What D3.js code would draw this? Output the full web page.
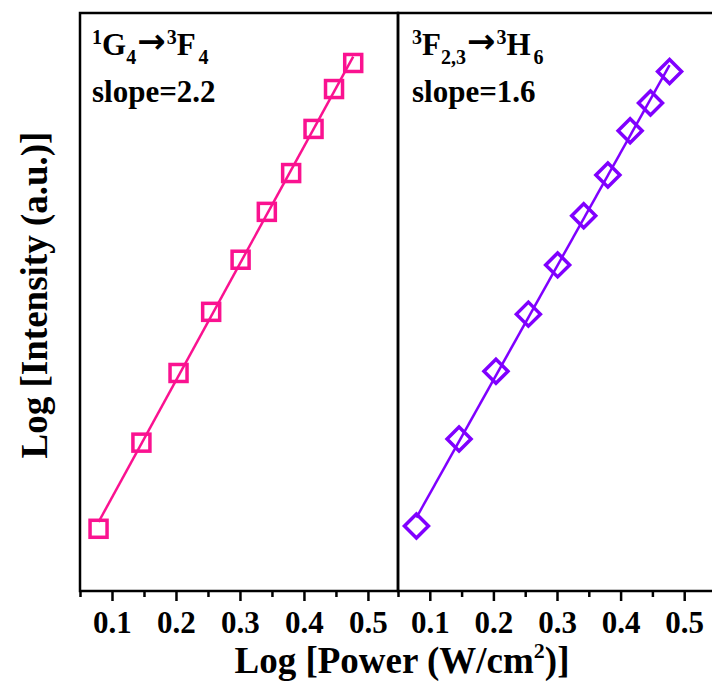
<!DOCTYPE html>
<html><head><meta charset="utf-8">
<script src="https://cdn.jsdelivr.net/npm/d3@7"></script>
<style>body{margin:0;background:#fff}svg{display:block}</style>
</head><body><svg id="c" width="712" height="682"></svg>
<script>
// Data
const powerLog = [0.079, 0.146, 0.204, 0.255, 0.301, 0.342, 0.380, 0.415, 0.447, 0.477];
const intensityG4F4 = [0.000, 0.162, 0.293, 0.408, 0.506, 0.596, 0.669, 0.752, 0.827, 0.876];
const intensityF23H6 = [0.000, 0.122, 0.217, 0.297, 0.366, 0.435, 0.492, 0.554, 0.593, 0.637];
const majorTicks = [0.1, 0.2, 0.3, 0.4, 0.5];
const tickLabels = ["0.1", "0.2", "0.3", "0.4", "0.5"];
const minorTicks = [0.05, 0.15, 0.25, 0.35, 0.45, 0.55];
const slopeLabels = ["slope=2.2", "slope=1.6"];

const svg = d3.select("#c");
svg.append("rect").attr("width", 712).attr("height", 682).attr("fill", "#fff");
const FONT = "'Liberation Serif','Times New Roman',serif";
const yTop = 13, yBottom = 591;

const panels = [
  {x0: 80, x1: 398, xd: [0.05, 0.547], yd: [-0.117, 0.970], vals: intensityG4F4, color: "#FA1290", marker: "square", minor: minorTicks.filter(t => t < 0.547)},
  {x0: 398, x1: 716, xd: [0.05, 0.55], yd: [-0.091, 0.719], vals: intensityF23H6, color: "#8000FF", marker: "diamond", minor: minorTicks}
];

panels.forEach((p, i) => {
  const x = d3.scaleLinear().domain(p.xd).range([p.x0, p.x1]);
  const y = d3.scaleLinear().domain(p.yd).range([yBottom, yTop]);
  const g = svg.append("g");

  // fit line
  const n = powerLog.length;
  const mx = d3.mean(powerLog), my = d3.mean(p.vals);
  let sxy = 0, sxx = 0;
  for (let k = 0; k < n; k++) { sxy += (powerLog[k]-mx)*(p.vals[k]-my); sxx += (powerLog[k]-mx)**2; }
  const b = sxy / sxx, a = my - b*mx;
  const xmin = d3.min(powerLog), xmax = d3.max(powerLog);
  g.append("line")
    .attr("x1", x(xmin)).attr("y1", y(a + b*xmin))
    .attr("x2", x(xmax)).attr("y2", y(a + b*xmax))
    .attr("stroke", p.color).attr("stroke-width", 2.5);

  // markers
  const pts = powerLog.map((v, k) => [v, p.vals[k]]);
  if (p.marker === "square") {
    g.selectAll("rect.m").data(pts).join("rect").attr("class", "m")
      .attr("x", d => x(d[0]) - 8.5).attr("y", d => y(d[1]) - 8.5)
      .attr("width", 17).attr("height", 17)
      .attr("fill", "none").attr("stroke", p.color).attr("stroke-width", 3.5);
  } else {
    const r = 12;
    g.selectAll("path.m").data(pts).join("path").attr("class", "m")
      .attr("d", d => { const cx = x(d[0]), cy = y(d[1]); return `M${cx},${cy-r}L${cx+r},${cy}L${cx},${cy+r}L${cx-r},${cy}Z`; })
      .attr("fill", "none").attr("stroke", p.color).attr("stroke-width", 3.5).attr("stroke-linejoin", "miter");
  }

  // axes
  const major = d3.axisBottom(x).tickValues(majorTicks).tickFormat((d, k) => tickLabels[k]).tickSize(10).tickSizeOuter(0).tickPadding(11);
  const ga = svg.append("g").attr("transform", `translate(0,${yBottom})`).call(major);
  ga.select(".domain").remove();
  ga.selectAll("line").attr("stroke", "#000").attr("stroke-width", 2.5);
  ga.selectAll("text").attr("font-family", FONT).attr("font-weight", "bold").attr("font-size", 31).attr("fill", "#000").attr("dy", "0.68em");
  const minor = d3.axisBottom(x).tickValues(p.minor).tickFormat("").tickSize(6).tickSizeOuter(0);
  const gm = svg.append("g").attr("transform", `translate(0,${yBottom})`).call(minor);
  gm.select(".domain").remove();
  gm.selectAll("line").attr("stroke", "#000").attr("stroke-width", 2.5);

  // frame
  svg.append("rect").attr("x", p.x0).attr("y", yTop).attr("width", p.x1 - p.x0).attr("height", yBottom - yTop)
    .attr("fill", "none").attr("stroke", "#000").attr("stroke-width", 2.5);
});

// panel labels
function label(x0, parts) {
  const t = svg.append("text").attr("x", x0).attr("y", 55)
    .attr("font-family", FONT).attr("font-weight", "bold").attr("font-size", 31).attr("fill", "#000");
  let shift = 0;
  parts.forEach(([s, kind, dx]) => {
    let target = kind === "sup" ? -11 : kind === "sub" ? 9 : 0;
    const ts = t.append("tspan").text(s).attr("dy", target - shift).attr("dx", dx || 0)
      .attr("font-size", kind === "n" ? 31 : kind === "arrow" ? 34 : 20);
    if (kind === "arrow") ts.attr("font-family", "'DejaVu Sans',sans-serif").attr("dy", -2 - shift), target = -2;
    shift = target;
  });
}
label(92, [["1","sup"],["G","n"],["4","sub"],["→","arrow",1],["3","sup",1],["F","n"],["4","sub",3]]);
label(412, [["3","sup"],["F","n"],["2,3","sub"],["→","arrow",1],["3","sup",1],["H","n"],["6","sub",3]]);
[92, 412].forEach((xx, i) => {
  svg.append("text").attr("x", xx).attr("y", 102).text(slopeLabels[i])
    .attr("font-family", FONT).attr("font-weight", "bold").attr("font-size", 31).attr("fill", "#000");
});

// axis titles
const xt = svg.append("text").attr("x", 402).attr("y", 673).attr("text-anchor", "middle")
  .attr("font-family", FONT).attr("font-weight", "bold").attr("font-size", 37).attr("fill", "#000");
xt.append("tspan").text("Log [Power (W/cm");
xt.append("tspan").text("2").attr("font-size", 22).attr("dy", -15);
xt.append("tspan").text(")]").attr("dy", 15);

svg.append("text").attr("transform", "translate(47,295) rotate(-90)").attr("text-anchor", "middle")
  .attr("font-family", FONT).attr("font-weight", "bold").attr("font-size", 37).attr("fill", "#000")
  .text("Log [Intensity (a.u.)]");
</script></body></html>
